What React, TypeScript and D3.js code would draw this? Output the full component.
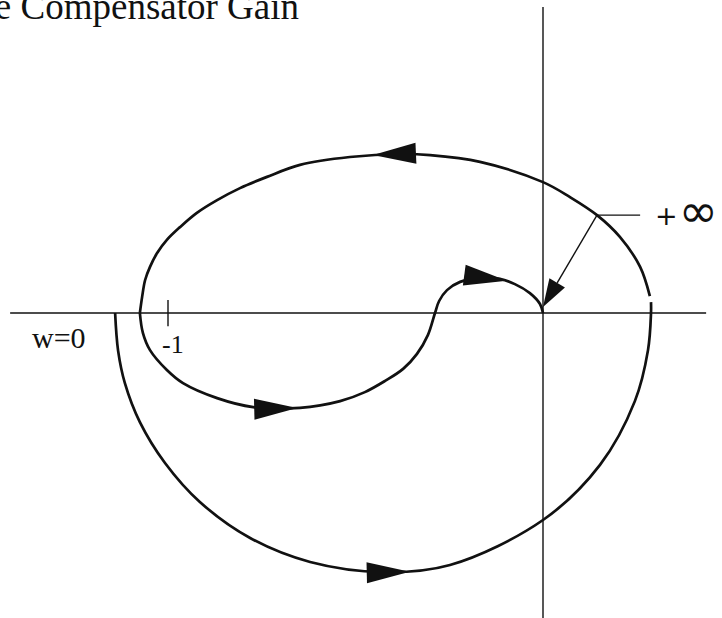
import React, { useEffect, useRef } from "react";
import * as d3 from "d3";

const W = 722;
const H = 618;

type Pt = [number, number]; // [re, im] in the complex plane

// Outer contour, lower half: starts at w = 0 and sweeps clockwise to the positive real axis
const lowerArc: Pt[] = [
  [-1.141, 0.0], [-1.133, -0.101], [-1.115, -0.187], [-1.075, -0.291],
  [-1.008, -0.4], [-0.915, -0.504], [-0.781, -0.6], [-0.621, -0.664],
  [-0.427, -0.691], [-0.248, -0.672], [0.0, -0.552], [0.152, -0.405],
  [0.245, -0.235], [0.28, -0.099], [0.288, 0.0], [0.288, 0.029],
];

// Outer contour, upper half: back across the top to the negative real axis
const upperArc: Pt[] = [
  [0.285, 0.045], [0.259, 0.123], [0.205, 0.203], [0.144, 0.261],
  [0.072, 0.309], [0.0, 0.349], [-0.168, 0.403], [-0.301, 0.421],
  [-0.381, 0.424], [-0.515, 0.416], [-0.648, 0.395], [-0.736, 0.363],
  [-0.808, 0.333], [-0.869, 0.301], [-0.923, 0.267], [-0.968, 0.229],
  [-1.003, 0.195], [-1.029, 0.16], [-1.048, 0.123], [-1.061, 0.088],
  [-1.069, 0.043], [-1.075, 0.0],
];

// Inner S-shaped branch ending at the origin
const innerLoop: Pt[] = [
  [-1.075, 0.0], [-1.067, -0.053], [-1.048, -0.099], [-1.003, -0.152],
  [-0.96, -0.187], [-0.869, -0.227], [-0.773, -0.251], [-0.648, -0.253],
  [-0.541, -0.235], [-0.475, -0.211], [-0.421, -0.181], [-0.373, -0.149],
  [-0.336, -0.109], [-0.307, -0.059], [-0.288, 0.0], [-0.277, 0.032],
  [-0.256, 0.061], [-0.221, 0.083], [-0.168, 0.093], [-0.115, 0.091],
  [-0.075, 0.077], [-0.035, 0.053], [-0.008, 0.024], [0.0, 0.0],
];

// Direction arrows: which branch, and where the tip sits
const arrowBranches = ["lower", "upper", "inner", "inner"];
const arrowTips: Pt[] = [
  [-0.355, -0.685],
  [-0.453, 0.421],
  [-0.656, -0.253],
  [-0.096, 0.088],
];

// "+∞" callout
const infinityFrom: Pt = [0.144, 0.261];
const infinityTip: Pt = [0.0, 0.016];
const infinityLeaderEnd: Pt = [0.259, 0.261];

// Axes and the -1 tick
const realAxisExtent = [-1.421, 0.435];
const imagAxisExtent = [0.816, -0.813];
const tickRe = -1;
const tickHalf = 0.035;

const titleText = "e Compensator Gain";
const startLabel = "w=0";
const tickLabel = "-1";

export default function App() {
  const ref = useRef<SVGSVGElement>(null);

  useEffect(() => {
    const svg = d3.select(ref.current);
    svg.selectAll("*").remove();

    const x = d3.scaleLinear().domain([-1, 0]).range([168, 543]);
    const y = d3.scaleLinear().domain([0, 1]).range([313, -62]);

    svg.append("rect").attr("width", W).attr("height", H).attr("fill", "#fff");

    // title
    svg.append("text")
      .attr("x", 299).attr("y", 19)
      .attr("text-anchor", "end")
      .attr("font-family", "Liberation Serif, Times New Roman, serif")
      .attr("font-size", 37)
      .attr("fill", "#111")
      .text(titleText);

    // axes
    const axisG = svg.append("g").attr("stroke", "#111").attr("stroke-width", 1.4);
    axisG.append("line")
      .attr("x1", x(realAxisExtent[0])).attr("x2", x(realAxisExtent[1]))
      .attr("y1", y(0)).attr("y2", y(0));
    axisG.append("line")
      .attr("x1", x(0)).attr("x2", x(0))
      .attr("y1", y(imagAxisExtent[0])).attr("y2", y(imagAxisExtent[1]));
    axisG.append("line")
      .attr("x1", x(tickRe)).attr("x2", x(tickRe))
      .attr("y1", y(tickHalf)).attr("y2", y(-tickHalf));

    const line = d3.line<Pt>()
      .x((d) => x(d[0]))
      .y((d) => y(d[1]))
      .curve(d3.curveCatmullRom.alpha(0.5));

    const branches: Record<string, Pt[]> = {
      lower: lowerArc,
      upper: upperArc,
      inner: innerLoop,
    };
    const paths: Record<string, SVGPathElement> = {};
    const curveG = svg.append("g")
      .attr("fill", "none").attr("stroke", "#111")
      .attr("stroke-width", 2.7).attr("stroke-linejoin", "round");
    Object.entries(branches).forEach(([k, pts]) => {
      paths[k] = curveG.append("path").attr("d", line(pts) as string).node() as SVGPathElement;
    });

    // arrowheads oriented along the path tangent
    const arrowLen = 43;
    const arrowHalf = 10.5;
    arrowTips.forEach((tip, i) => {
      const p = paths[arrowBranches[i]];
      const total = p.getTotalLength();
      const tx = x(tip[0]);
      const ty = y(tip[1]);
      let best = 0;
      let bestD = Infinity;
      for (let s = 0; s <= total; s += 0.5) {
        const q = p.getPointAtLength(s);
        const d = (q.x - tx) ** 2 + (q.y - ty) ** 2;
        if (d < bestD) { bestD = d; best = s; }
      }
      const a = p.getPointAtLength(best);
      const b = p.getPointAtLength(Math.max(0, best - 22));
      let dx = a.x - b.x;
      let dy = a.y - b.y;
      const n = Math.hypot(dx, dy) || 1;
      dx /= n; dy /= n;
      const bx = a.x - dx * arrowLen;
      const by = a.y - dy * arrowLen;
      const pts = [
        [a.x, a.y],
        [bx - dy * arrowHalf, by + dx * arrowHalf],
        [bx + dy * arrowHalf, by - dx * arrowHalf],
      ];
      svg.append("path")
        .attr("d", "M" + pts.map((q) => q.join(",")).join("L") + "Z")
        .attr("fill", "#111");
    });

    // +∞ callout
    const fx = x(infinityFrom[0]);
    const fy = y(infinityFrom[1]);
    const ix = x(infinityTip[0]);
    const iy = y(infinityTip[1]);
    svg.append("line")
      .attr("x1", fx).attr("y1", fy)
      .attr("x2", x(infinityLeaderEnd[0])).attr("y2", y(infinityLeaderEnd[1]))
      .attr("stroke", "#111").attr("stroke-width", 1.4);
    {
      let dx = ix - fx;
      let dy = iy - fy;
      const n = Math.hypot(dx, dy);
      dx /= n; dy /= n;
      const hl = 28;
      const hw = 9;
      const bx = ix - dx * hl;
      const by = iy - dy * hl;
      svg.append("line")
        .attr("x1", fx).attr("y1", fy).attr("x2", bx).attr("y2", by)
        .attr("stroke", "#111").attr("stroke-width", 1.4);
      svg.append("path")
        .attr("d", `M${ix},${iy}L${bx - dy * hw},${by + dx * hw}L${bx + dy * hw},${by - dx * hw}Z`)
        .attr("fill", "#111");
    }
    const inf = svg.append("text")
      .attr("x", 655).attr("y", 225)
      .attr("font-family", "DejaVu Sans, sans-serif")
      .attr("fill", "#111");
    inf.append("tspan").attr("font-size", 27).text("+");
    inf.append("tspan").attr("dx", 1).attr("dy", 2).attr("font-size", 47).text("∞");

    // labels
    svg.append("text")
      .attr("x", 32).attr("y", 348)
      .attr("font-family", "Liberation Serif, Times New Roman, serif")
      .attr("font-size", 30)
      .attr("fill", "#111")
      .text(startLabel);
    svg.append("text")
      .attr("x", 162).attr("y", 353)
      .attr("font-family", "Liberation Serif, Times New Roman, serif")
      .attr("font-size", 26)
      .attr("fill", "#111")
      .text(tickLabel);
  }, []);

  return (
    <svg
      ref={ref}
      width={W}
      height={H}
      style={{ position: "absolute", left: 0, top: 0, background: "#fff" }}
    />
  );
}
